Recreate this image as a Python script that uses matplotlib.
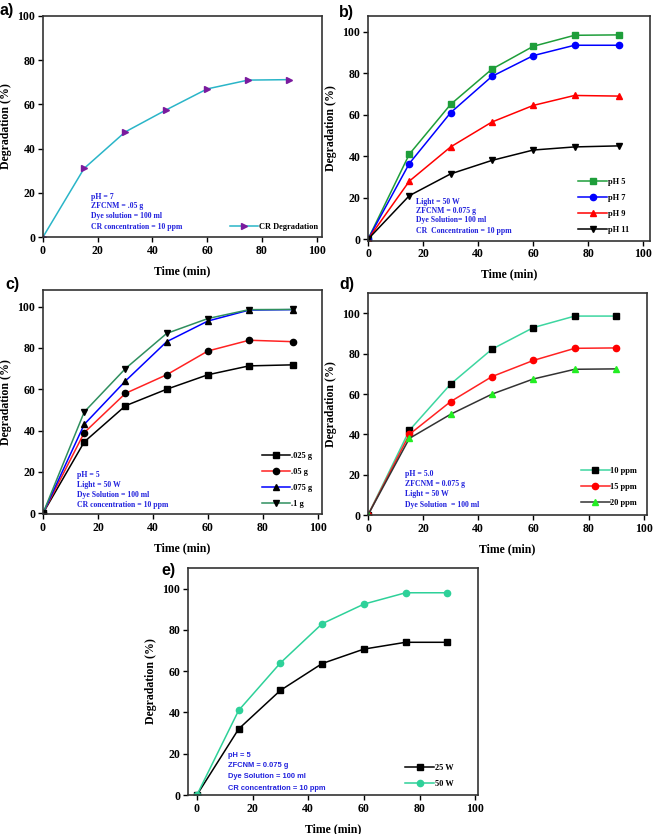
import numpy as np
import matplotlib.pyplot as plt

plt.close('all')
plt.rcParams['font.family'] = ['Liberation Serif', 'DejaVu Serif']
plt.rcParams['font.weight'] = 'bold'

W, H = 653, 834

# ---- data ----
time_a = [0, 15, 30, 45, 60, 75, 90]
cr_deg = [0, 31, 47.5, 57.5, 67, 71, 71.2]

time_b = [0, 15, 30, 45, 60, 75, 91]
ph5 = [0, 41, 65, 82, 93, 98.3, 98.5]
ph7 = [0, 36.5, 61, 78.5, 88.5, 93.5, 93.5]
ph9 = [0, 28, 44.5, 56.5, 64.5, 69.3, 69]
ph11 = [0, 21, 31.5, 38, 43, 44.5, 45]

time_c = [0, 15, 30, 45, 60, 75, 91]
dose_025 = [0, 34.5, 52, 60, 67, 71.3, 71.8]
dose_05 = [0, 39, 58, 67, 78.5, 83.7, 83]
dose_075 = [0, 43, 64, 83, 93, 98.3, 98.5]
dose_1 = [0, 49, 70, 87, 94.2, 98.5, 98.6]

time_d = [0, 15, 30, 45, 60, 75, 90]
ppm10 = [0, 42, 65, 82.3, 93, 98.7, 98.7]
ppm15 = [0, 40, 56.3, 68.7, 76.7, 82.7, 82.9]
ppm20 = [0, 38, 50, 60, 67.5, 72.3, 72.5]

time_e = [0, 15, 30, 45, 60, 75, 90]
w25 = [0, 32, 50.7, 63.7, 70.7, 74, 74]
w50 = [0, 41, 64, 83, 92.5, 98, 98]

fig = plt.figure(figsize=(W / 100, H / 100), dpi=100)


def make_axes(left, right, top, bottom):
    return fig.add_axes([left / W, 1 - bottom / H, (right - left) / W, (bottom - top) / H])


def style(ax, xlim, ylim):
    ax.set_xlim(*xlim)
    ax.set_ylim(*ylim)
    ax.set_xticks(range(0, 101, 20))
    ax.set_yticks(range(0, 101, 20))
    ax.tick_params(direction='out', length=3.5, width=1, labelsize=8.5, pad=2)
    for s in ax.spines.values():
        s.set_linewidth(1.2)
        s.set_color('#333333')
    ax.set_xlabel('Time (min)', fontsize=8.5, fontweight='bold', labelpad=6)
    ax.set_ylabel('Degradation (%)', fontsize=8.5, fontweight='bold', labelpad=4)


def notes(ax, x, ys, lines, family=None, size=5.6):
    for y, t in zip(ys, lines):
        kw = {}
        if family:
            kw['family'] = family
        ax.text(x, y, t, transform=ax.transAxes, color='#2222dd', fontsize=size,
                fontweight='bold', va='center', **kw)


def legend(ax, x, y):
    ax.legend(loc='lower right', bbox_to_anchor=(x, y), frameon=False, fontsize=6,
              handlelength=3.4, handletextpad=0.1, labelspacing=0.95,
              borderaxespad=0, borderpad=0)


def panel_label(txt, x, y):
    fig.text(x / W, 1 - y / H, txt, fontsize=11.5, fontweight='bold',
             family=['Liberation Sans', 'DejaVu Sans'], va='center')


# a) single run
ax1 = make_axes(43, 322, 16, 237)
ax1.plot(time_a, cr_deg, color='#2ab5c8', lw=1.1, marker='>', ms=5,
         mfc='#7a1a9e', mec='#7a1a9e', label='CR Degradation')
style(ax1, (0, 102), (0, 100))
notes(ax1, 0.171, [0.181, 0.142, 0.095, 0.047],
      ['pH = 7', 'ZFCNM = .05 g', 'Dye solution = 100 ml', 'CR concentration = 10 ppm'])
legend(ax1, 0.985, 0.028)
panel_label('a)', 0, 10)

# b) effect of pH
ax2 = make_axes(368, 650, 16, 240.7)
ax2.plot(time_b, ph5, color='#1e9e3a', lw=1.1, marker='s', ms=4.5, label='pH 5')
ax2.plot(time_b, ph7, color='#0000ff', lw=1.1, marker='o', ms=4.5, label='pH 7')
ax2.plot(time_b, ph9, color='#ff0000', lw=1.1, marker='^', ms=4.5, label='pH 9')
ax2.plot(time_b, ph11, color='black', lw=1.1, marker='v', ms=4.5, label='pH 11')
style(ax2, (0, 102.4), (-0.7, 107.6))
notes(ax2, 0.169, [0.174, 0.134, 0.092, 0.043],
      ['Light = 50 W', 'ZFCNM = 0.075 g', 'Dye Solution= 100 ml', 'CR  Concentration = 10 ppm'])
legend(ax2, 0.925, 0.032)
panel_label('b)', 339, 12)

# c) effect of catalyst dose
ax3 = make_axes(43, 322, 290, 514.3)
ax3.plot(time_c, dose_025, color='black', lw=1.1, marker='s', ms=4.5, mfc='black', mec='black', label='.025 g')
ax3.plot(time_c, dose_05, color='#ff2222', lw=1.1, marker='o', ms=4.5, mfc='black', mec='black', label='.05 g')
ax3.plot(time_c, dose_075, color='#0000ff', lw=1.1, marker='^', ms=4.5, mfc='black', mec='black', label='.075 g')
ax3.plot(time_c, dose_1, color='#2f8f5f', lw=1.1, marker='v', ms=4.5, mfc='black', mec='black', label='.1 g')
style(ax3, (0, 101.5), (-0.5, 108))
notes(ax3, 0.121, [0.175, 0.131, 0.086, 0.042],
      ['pH = 5', 'Light = 50 W', 'Dye Solution = 100 ml', 'CR concentration = 10 ppm'])
legend(ax3, 0.965, 0.03)
panel_label('c)', 5, 285)

# d) effect of dye concentration
ax4 = make_axes(368, 647, 293.3, 515)
ax4.plot(time_d, ppm10, color='#3dd6a0', lw=1.1, marker='s', ms=4.5, mfc='black', mec='black', label='10 ppm')
ax4.plot(time_d, ppm15, color='#ff2222', lw=1.1, marker='o', ms=4.5, mfc='#ff0000', mec='#ff0000', label='15 ppm')
ax4.plot(time_d, ppm20, color='#333333', lw=1.1, marker='^', ms=4.5, mfc='#22ee22', mec='#22ee22', label='20 ppm')
style(ax4, (0, 101.2), (0, 110))
notes(ax4, 0.133, [0.183, 0.138, 0.093, 0.045],
      ['pH = 5.0', 'ZFCNM = 0.075 g', 'Light = 50 W', 'Dye Solution  = 100 ml'])
legend(ax4, 0.965, 0.035)
panel_label('d)', 339, 285)

# e) effect of light intensity
ax5 = make_axes(188, 478, 568, 795)
ax5.plot(time_e, w25, color='black', lw=1.1, marker='s', ms=4.5, label='25 W')
ax5.plot(time_e, w50, color='#2ed199', lw=1.1, marker='o', ms=4.5, label='50 W')
style(ax5, (-3.2, 101), (0, 110))
notes(ax5, 0.139, [0.176, 0.129, 0.081, 0.03],
      ['pH = 5', 'ZFCNM = 0.075 g', 'Dye Solution = 100 ml', 'CR concentration = 10 ppm'],
      family=['Liberation Sans', 'DejaVu Sans'], size=5.4)
legend(ax5, 0.915, 0.03)
panel_label('e)', 161, 570)

fig.savefig('out.png', dpi=100)
